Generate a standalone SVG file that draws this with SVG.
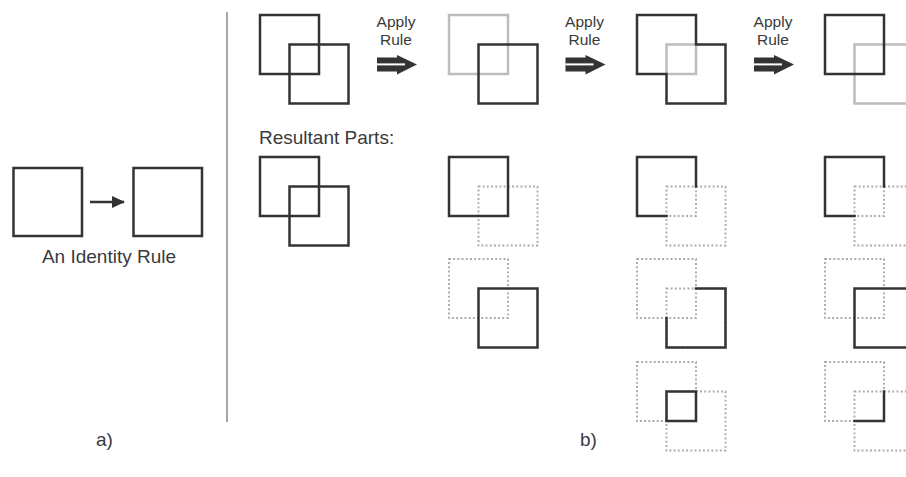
<svg xmlns="http://www.w3.org/2000/svg" width="906" height="477" viewBox="0 0 906 477">
  <style>
    text { font-family: "Liberation Sans", Arial, sans-serif; fill: #3a3a3a; }
    .lbl { font-size: 19px; }
    .rule { font-size: 15.5px; text-anchor: middle; }
    .blk { fill: none; stroke: #333; stroke-width: 2.5; stroke-linejoin: miter; stroke-linecap: square; }
    .gry { fill: none; stroke: #bdbdbd; stroke-width: 2.5; }
    .dot { fill: none; stroke: #aaaaaa; stroke-width: 1.9; stroke-dasharray: 1.9 2.3; }
  </style>
  <defs>
    <!-- unit shapes: square A at origin, square B offset by half a side -->
    <rect id="sqA" x="0" y="0" width="59" height="59"/>
    <rect id="sqB" x="29.5" y="29.5" width="59" height="59"/>
    <rect id="sqI" x="29.5" y="29.5" width="29.5" height="29.5"/>
    <path id="aMinusI" d="M29.5,59 L0,59 L0,0 L59,0 L59,29.5"/>
    <path id="bMinusI" d="M59,29.5 L88.5,29.5 L88.5,88.5 L29.5,88.5 L29.5,59"/>
    <path id="iCorner" d="M59,29.5 L59,59 L29.5,59"/>
    <path id="union" d="M29.5,59 L0,59 L0,0 L59,0 L59,29.5 L88.5,29.5 L88.5,88.5 L29.5,88.5 Z"/>
    <marker id="head" markerWidth="14" markerHeight="14" refX="12" refY="7" orient="auto" markerUnits="userSpaceOnUse">
      <path d="M0,1 L13,7 L0,13 Z" fill="#333"/>
    </marker>
    <!-- heavy double arrow used between rule applications -->
    <g id="dbl">
      <rect x="0" y="2.5" width="23" height="14" fill="#333"/>
      <path d="M20,0 L40,9.5 L20,19.5 Z" fill="#333"/>
      <rect x="0" y="8.4" width="28" height="2" fill="#fff"/>
    </g>
  </defs>

  <!-- divider between parts a) and b) -->
  <line x1="227" y1="12" x2="227" y2="422" stroke="#8a8a8a" stroke-width="1.5"/>

  <!-- part a) -->
  <g id="identity-left"><rect class="blk" x="13.5" y="168" width="68.5" height="68"/></g>
  <g id="identity-right"><rect class="blk" x="133.5" y="168" width="68.5" height="68"/></g>
  <text class="lbl" x="109" y="263" text-anchor="middle">An Identity Rule</text>
  <text class="lbl" x="96" y="446">a)</text>

  <!-- top row: the shape after each rule application -->
  <g id="step0" transform="translate(260,15)">
    <use href="#sqA" class="blk"/><use href="#sqB" class="blk"/>
  </g>
  <g id="step1" transform="translate(449,15)">
    <use href="#sqA" class="gry"/><use href="#sqB" class="blk"/>
  </g>
  <g id="step2" transform="translate(637,15)">
    <use href="#sqI" class="gry"/><use href="#union" class="blk"/>
  </g>
  <g id="step3" transform="translate(825,15)">
    <use href="#sqB" class="gry"/><use href="#sqA" class="blk"/>
  </g>

  <g id="apply-labels">
    <text class="rule" x="396" y="27">Apply</text><text class="rule" x="396" y="45">Rule</text>
    <text class="rule" x="584.5" y="27">Apply</text><text class="rule" x="584.5" y="45">Rule</text>
    <text class="rule" x="773" y="27">Apply</text><text class="rule" x="773" y="45">Rule</text>
  </g>

  <text class="lbl" x="259" y="144">Resultant Parts:</text>

  <!-- resultant parts, column by column -->
  <g id="parts0" transform="translate(260,157)">
    <use href="#sqA" class="blk"/><use href="#sqB" class="blk"/>
  </g>
  <g id="parts1-a" transform="translate(449,157)">
    <use href="#sqB" class="dot"/><use href="#sqA" class="blk"/>
  </g>
  <g id="parts1-b" transform="translate(449,259)">
    <use href="#sqA" class="dot"/><use href="#sqB" class="blk"/>
  </g>
  <g id="parts2-a" transform="translate(637,157)">
    <use href="#sqA" class="dot"/><use href="#sqB" class="dot"/><use href="#aMinusI" class="blk"/>
  </g>
  <g id="parts2-b" transform="translate(637,259)">
    <use href="#sqA" class="dot"/><use href="#sqB" class="dot"/><use href="#bMinusI" class="blk"/>
  </g>
  <g id="parts2-c" transform="translate(637,362)">
    <use href="#sqA" class="dot"/><use href="#sqB" class="dot"/><use href="#sqI" class="blk"/>
  </g>
  <g id="parts3-a" transform="translate(825,157)">
    <use href="#sqA" class="dot"/><use href="#sqB" class="dot"/><use href="#aMinusI" class="blk"/>
  </g>
  <g id="parts3-b" transform="translate(825,259)">
    <use href="#sqA" class="dot"/><use href="#sqB" class="blk"/>
  </g>
  <g id="parts3-c" transform="translate(825,362)">
    <use href="#sqA" class="dot"/><use href="#sqB" class="dot"/><use href="#iCorner" class="blk"/>
  </g>

  <text class="lbl" x="580" y="446">b)</text>

  <!-- connectors -->
  <g id="connectors">
    <line x1="90" y1="202" x2="124" y2="202" stroke="#333" stroke-width="2.5" marker-end="url(#head)"/>
    <use href="#dbl" transform="translate(377,55)"/>
    <use href="#dbl" transform="translate(565.5,55)"/>
    <use href="#dbl" transform="translate(754,55)"/>
  </g>
</svg>
